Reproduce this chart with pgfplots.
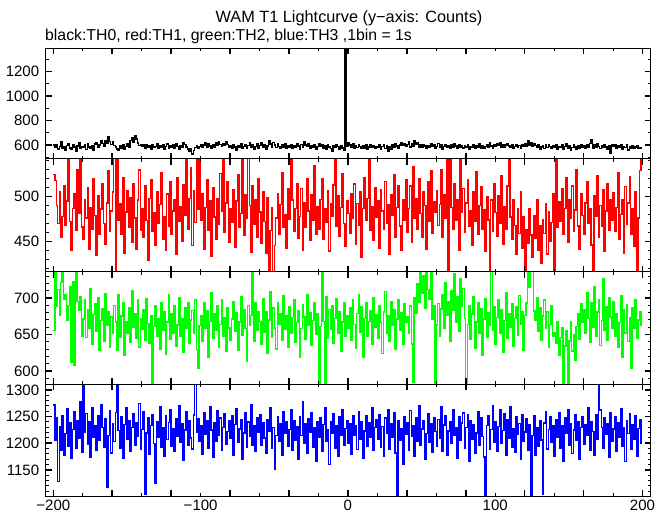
\documentclass[border=0pt]{standalone}
\usepackage{pgfplots}
\pgfplotsset{compat=1.18}
\usepackage{fontspec}
\setmainfont{Liberation Sans}
\pgfplotsset{
  panel/.style={
    width=605pt, scale only axis, xmin=-205.2, xmax=205.6,
    anchor=north west,
    axis on top=true,
    tick align=inside,
    xtick={-200,-160,...,200}, xticklabel=\empty,
    minor xtick={-180,-140,...,180},
    major tick length=6pt, minor tick length=3pt,
    major tick style={line width=1.6pt, black},
    minor tick style={line width=0.8pt, black},
    axis line style={line width=1pt},
    tick label style={font=\fontsize{15}{18}\selectfont},
    yticklabel style={xshift=-3pt},
    /pgf/number format/assume math mode=true,
    /pgf/number format/1000 sep={},
  },
}
\begin{document}
\begin{tikzpicture}
\useasboundingbox (0,0) rectangle (669pt,-515pt);
\node[font=\fontsize{16.3}{19}\selectfont, anchor=base] at (349pt,-22pt) {WAM T1 Lightcurve (y−axis: Counts)};
\node[font=\fontsize{15.8}{19}\selectfont, anchor=base west, inner sep=0pt] at (45pt,-40pt) {black:TH0, red:TH1, green:TH2, blue:TH3 ,1bin = 1s};
% ---------- panel 1 : TH0
\begin{axis}[panel, at={(45.7pt,-48.3pt)}, height=110.5pt,
  ymin=487, ymax=1391, ytick={600,800,1000,1200}, minor ytick={500,700,900,1100,1300}]
\addplot[black, const plot, line width=1.4pt] table[row sep=\\, header=false, x expr=\coordindex-200, y index=0]{
599\\580\\606\\568\\590\\623\\574\\587\\554\\596\\612\\577\\563\\602\\584\\550\\593\\615\\572\\588\\
581\\603\\562\\614\\585\\569\\594\\557\\608\\621\\582\\600\\633\\611\\590\\639\\617\\666\\627\\602\\
623\\597\\585\\566\\554\\593\\575\\602\\562\\588\\609\\581\\635\\660\\623\\674\\648\\615\\597\\606\\
587\\599\\573\\606\\582\\593\\566\\603\\579\\590\\614\\570\\594\\581\\602\\562\\588\\608\\575\\597\\
579\\600\\569\\611\\588\\562\\597\\578\\620\\602\\584\\566\\546\\573\\527\\555\\581\\593\\572\\588\\
606\\585\\599\\621\\581\\609\\593\\573\\600\\584\\617\\596\\626\\605\\588\\612\\594\\630\\603\\581\\
593\\572\\606\\585\\558\\597\\579\\611\\569\\590\\602\\577\\594\\615\\582\\599\\563\\588\\608\\575\\
596\\618\\584\\603\\568\\593\\632\\609\\585\\621\\599\\579\\608\\590\\570\\602\\582\\611\\573\\594\\
585\\606\\572\\597\\579\\614\\591\\566\\602\\584\\623\\600\\588\\609\\569\\596\\578\\603\\562\\590\\
611\\587\\600\\577\\594\\568\\603\\584\\572\\550\\593\\581\\606\\588\\564\\597\\575\\558\\1500\\591\\
617\\600\\584\\608\\573\\596\\579\\603\\587\\569\\593\\577\\599\\562\\585\\602\\578\\594\\570\\588\\
581\\599\\563\\588\\606\\572\\594\\545\\585\\566\\603\\582\\609\\591\\575\\600\\621\\596\\614\\587\\
603\\624\\584\\611\\593\\635\\602\\618\\585\\599\\578\\605\\591\\572\\596\\582\\609\\588\\600\\569\\
590\\611\\578\\600\\568\\587\\606\\581\\594\\573\\599\\585\\612\\593\\577\\602\\584\\596\\575\\593\\
582\\603\\566\\590\\579\\600\\572\\594\\584\\608\\577\\596\\569\\588\\602\\579\\615\\591\\573\\599\\
588\\609\\597\\621\\585\\605\\581\\599\\614\\593\\579\\603\\572\\590\\606\\584\\596\\575\\600\\587\\
608\\591\\632\\600\\618\\587\\611\\597\\579\\603\\563\\584\\594\\573\\599\\581\\606\\590\\569\\593\\
579\\599\\566\\590\\582\\602\\562\\587\\608\\575\\596\\554\\579\\603\\585\\568\\593\\577\\600\\584\\
594\\575\\602\\585\\612\\647\\572\\599\\581\\608\\588\\569\\596\\579\\605\\585\\564\\593\\530\\600\\
587\\606\\573\\596\\582\\602\\566\\590\\579\\600\\558\\587\\575\\594\\569\\585\\593\\577\\572\\582\\
};
\end{axis}
% ---------- panel 2 : TH1
\begin{axis}[panel, at={(45.7pt,-158.8pt)}, height=112.9pt,
  ymin=416, ymax=542.3, ytick={450,500},
  minor ytick={420,430,440,460,470,480,490,510,520,530,540}]
\addplot[red, const plot, line width=1.4pt] table[row sep=\\, header=false, x expr=\coordindex-200, y index=0]{
525\\518\\490\\470\\505\\455\\478\\512\\468\\495\\548\\472\\440\\487\\503\\462\\530\\481\\549\\466\\
452\\497\\476\\510\\441\\488\\463\\520\\479\\434\\501\\458\\486\\515\\470\\447\\493\\529\\461\\484\\
505\\551\\409\\546\\474\\492\\458\\521\\437\\483\\507\\466\\499\\449\\515\\476\\441\\496\\530\\462\\
487\\455\\512\\473\\429\\498\\519\\461\\482\\445\\506\\470\\491\\527\\452\\478\\440\\503\\467\\517\\
458\\484\\497\\436\\521\\472\\489\\450\\513\\479\\550\\464\\498\\532\\445\\507\\471\\544\\486\\547\\
474\\503\\441\\488\\519\\462\\495\\433\\510\\477\\452\\498\\469\\526\\484\\548\\460\\493\\517\\449\\
486\\471\\508\\443\\495\\524\\466\\481\\551\\457\\502\\476\\548\\490\\438\\512\\469\\497\\454\\520\\
483\\448\\506\\472\\437\\499\\410\\462\\488\\412\\445\\476\\503\\458\\491\\527\\466\\480\\442\\509\\
475\\552\\496\\461\\487\\514\\453\\478\\509\\440\\493\\466\\520\\484\\451\\502\\473\\535\\458\\489\\
464\\497\\520\\452\\486\\471\\507\\439\\492\\478\\513\\549\\467\\501\\456\\488\\526\\470\\444\\495\\
481\\459\\503\\476\\514\\447\\492\\468\\506\\432\\487\\521\\473\\498\\553\\462\\489\\451\\510\\477\\
495\\442\\508\\484\\463\\517\\470\\491\\436\\502\\479\\525\\455\\488\\512\\467\\440\\496\\473\\519\\
460\\487\\512\\449\\534\\476\\498\\463\\520\\481\\454\\505\\490\\441\\517\\472\\529\\459\\494\\483\\
507\\468\\491\\530\\455\\502\\476\\549\\411\\552\\488\\463\\515\\474\\497\\440\\546\\482\\509\\460\\
493\\519\\467\\484\\445\\506\\472\\528\\458\\490\\511\\463\\485\\439\\500\\474\\410\\496\\461\\515\\
482\\456\\501\\470\\523\\447\\489\\464\\512\\550\\477\\452\\497\\468\\435\\486\\459\\505\\442\\478\\
411\\463\\448\\487\\457\\432\\479\\453\\496\\440\\468\\425\\474\\459\\492\\436\\483\\450\\471\\503\\
413\\553\\466\\494\\472\\509\\458\\487\\521\\449\\497\\476\\512\\461\\485\\530\\467\\441\\503\\479\\
458\\493\\517\\470\\486\\446\\412\\501\\478\\523\\455\\490\\467\\508\\439\\484\\515\\462\\497\\473\\
504\\461\\488\\527\\452\\480\\496\\437\\511\\469\\493\\522\\458\\487\\444\\506\\412\\476\\529\\550\\
};
\end{axis}
% ---------- panel 3 : TH2
\begin{axis}[panel, at={(45.7pt,-271.7pt)}, height=112.3pt,
  ymin=582, ymax=736, ytick={600,650,700},
  minor ytick={590,610,620,630,640,660,670,680,690,710,720,730}]
\addplot[green, const plot, line width=1.4pt] table[row sep=\\, header=false, x expr=\coordindex-200, y index=0]{
655\\740\\688\\712\\676\\721\\740\\698\\705\\669\\690\\715\\612\\722\\608\\740\\695\\683\\702\\648\\
671\\698\\646\\684\\659\\713\\637\\677\\692\\654\\700\\628\\669\\685\\641\\706\\662\\681\\633\\674\\
651\\690\\667\\628\\704\\646\\675\\693\\621\\668\\652\\686\\639\\710\\660\\679\\645\\698\\633\\671\\
657\\684\\642\\699\\665\\638\\676\\575\\661\\689\\648\\672\\630\\694\\655\\681\\623\\667\\705\\643\\
678\\652\\689\\634\\663\\701\\647\\672\\625\\686\\659\\694\\638\\670\\683\\651\\697\\629\\604\\662\\
675\\641\\693\\658\\682\\619\\668\\707\\645\\679\\656\\690\\633\\664\\698\\648\\673\\627\\687\\659\\
642\\671\\695\\654\\680\\628\\667\\702\\649\\684\\658\\613\\690\\662\\676\\740\\641\\694\\655\\681\\
668\\637\\699\\653\\681\\624\\670\\709\\646\\686\\659\\630\\693\\664\\679\\642\\703\\657\\675\\632\\
688\\651\\673\\697\\639\\666\\682\\619\\658\\691\\674\\643\\705\\662\\680\\635\\669\\694\\650\\678\\
575\\661\\740\\668\\576\\702\\645\\684\\657\\690\\638\\672\\699\\651\\681\\627\\667\\693\\648\\675\\
659\\686\\642\\697\\664\\631\\679\\705\\653\\688\\618\\672\\694\\647\\668\\683\\636\\701\\660\\677\\
645\\690\\667\\624\\681\\709\\652\\676\\640\\695\\663\\684\\629\\671\\698\\655\\680\\637\\692\\666\\
674\\651\\689\\637\\585\\700\\679\\720\\694\\740\\707\\730\\686\\740\\712\\698\\740\\671\\690\\578\\
663\\692\\648\\685\\705\\659\\721\\676\\695\\640\\710\\683\\733\\667\\702\\654\\726\\689\\713\\672\\
581\\664\\689\\643\\678\\702\\631\\667\\694\\652\\685\\621\\671\\699\\646\\680\\662\\740\\656\\688\\
637\\673\\698\\651\\684\\626\\669\\707\\645\\679\\660\\692\\634\\672\\688\\649\\703\\664\\681\\628\\
676\\693\\740\\715\\740\\738\\682\\669\\701\\654\\686\\642\\675\\697\\658\\681\\633\\664\\690\\647\\
652\\638\\667\\621\\646\\659\\580\\634\\655\\582\\641\\668\\627\\650\\615\\661\\679\\643\\692\\666\\
684\\651\\707\\672\\639\\693\\660\\715\\648\\681\\697\\635\\669\\726\\655\\688\\642\\701\\674\\658\\
695\\647\\678\\632\\666\\703\\619\\684\\652\\691\\640\\673\\604\\687\\659\\698\\645\\670\\681\\662\\
};
\end{axis}
% ---------- panel 4 : TH3
\begin{axis}[panel, at={(45.7pt,-384pt)}, height=112pt,
  ymin=1101, ymax=1311, ytick={1150,1200,1250,1300},
  minor ytick={1110,1120,1130,1140,1160,1170,1180,1190,1210,1220,1230,1240,1260,1270,1280,1290,1310},
  extra x ticks={-200,-100,0,100,200},
  extra x tick labels={−200,−100,0,100,200},
  extra x tick style={major tick length=0pt}]
\addplot[blue, const plot, line width=1.4pt] table[row sep=\\, header=false, x expr=\coordindex-200, y index=0]{
1272\\1205\\1247\\1128\\1231\\1186\\1252\\1178\\1218\\1264\\1195\\1238\\1172\\1226\\1259\\1190\\1243\\1209\\1277\\1183\\
1315\\1221\\1256\\1198\\1240\\1174\\1266\\1212\\1233\\1187\\1251\\1206\\1272\\1229\\1193\\1246\\1118\\1215\\1261\\1182\\
1236\\1203\\1258\\1315\\1224\\1190\\1249\\1171\\1235\\1267\\1208\\1242\\1184\\1229\\1256\\1197\\1238\\1213\\1275\\1188\\
1226\\1260\\1105\\1219\\1247\\1180\\1233\\1254\\1199\\1125\\1241\\1212\\1268\\1192\\1230\\1176\\1251\\1207\\1239\\1263\\
1195\\1228\\1184\\1246\\1213\\1271\\1202\\1237\\1168\\1225\\1259\\1197\\1242\\1210\\1189\\1253\\1315\\1221\\1246\\1204\\
1233\\1180\\1257\\1216\\1242\\1191\\1269\\1225\\1173\\1238\\1204\\1261\\1215\\1247\\1186\\1230\\1255\\1198\\1222\\1243\\
1209\\1251\\1178\\1235\\1264\\1201\\1227\\1245\\1169\\1219\\1258\\1192\\1240\\1213\\1273\\1196\\1232\\1185\\1248\\1221\\
1254\\1197\\1238\\1210\\1181\\1245\\1223\\1266\\1190\\1229\\1152\\1214\\1249\\1203\\1236\\1177\\1259\\1218\\1240\\1195\\
1226\\1262\\1187\\1243\\1205\\1231\\1170\\1250\\1214\\1278\\1199\\1237\\1182\\1246\\1221\\1257\\1193\\1229\\1166\\1240\\
1211\\1248\\1184\\1235\\1267\\1203\\1226\\1160\\1241\\1218\\1255\\1190\\1232\\1176\\1249\\1215\\1262\\1197\\1228\\1243\\
1200\\1237\\1179\\1252\\1214\\1233\\1188\\1260\\1207\\1240\\1171\\1223\\1251\\1195\\1238\\1212\\1266\\1186\\1229\\1245\\
1208\\1254\\1193\\1231\\1176\\1247\\1219\\1263\\1189\\1236\\1211\\1258\\1182\\1099\\1242\\1205\\1228\\1161\\1250\\1216\\
1239\\1187\\1261\\1213\\1232\\1175\\1248\\1204\\1270\\1196\\1227\\1243\\1169\\1218\\1255\\1201\\1236\\1183\\1247\\1222\\
1194\\1245\\1210\\1268\\1185\\1234\\1252\\1178\\1223\\1241\\1199\\1263\\1214\\1230\\1172\\1249\\1206\\1238\\1257\\1191\\
1229\\1254\\1166\\1242\\1208\\1235\\1181\\1219\\1260\\1197\\1247\\1213\\1174\\1099\\1233\\1251\\1188\\1226\\1271\\1202\\
1240\\1185\\1231\\1262\\1199\\1224\\1256\\1177\\1245\\1210\\1268\\1193\\1228\\1183\\1249\\1216\\1237\\1170\\1253\\1204\\
1221\\1246\\1187\\1234\\1099\\1215\\1251\\1178\\1229\\1194\\1242\\1206\\1104\\1238\\1260\\1189\\1226\\1249\\1201\\1233\\
1175\\1244\\1212\\1258\\1190\\1232\\1167\\1248\\1219\\1263\\1196\\1237\\1181\\1225\\1253\\1205\\1240\\1169\\1229\\1250\\
1198\\1235\\1214\\1266\\1187\\1241\\1222\\1178\\1253\\1208\\1318\\1262\\1229\\1191\\1247\\1216\\1236\\1173\\1258\\1203\\
1227\\1249\\1184\\1238\\1211\\1265\\1195\\1230\\1166\\1243\\1218\\1256\\1189\\1234\\1207\\1251\\1176\\1228\\1245\\1199\\
};
\end{axis}
\end{tikzpicture}
\end{document}
